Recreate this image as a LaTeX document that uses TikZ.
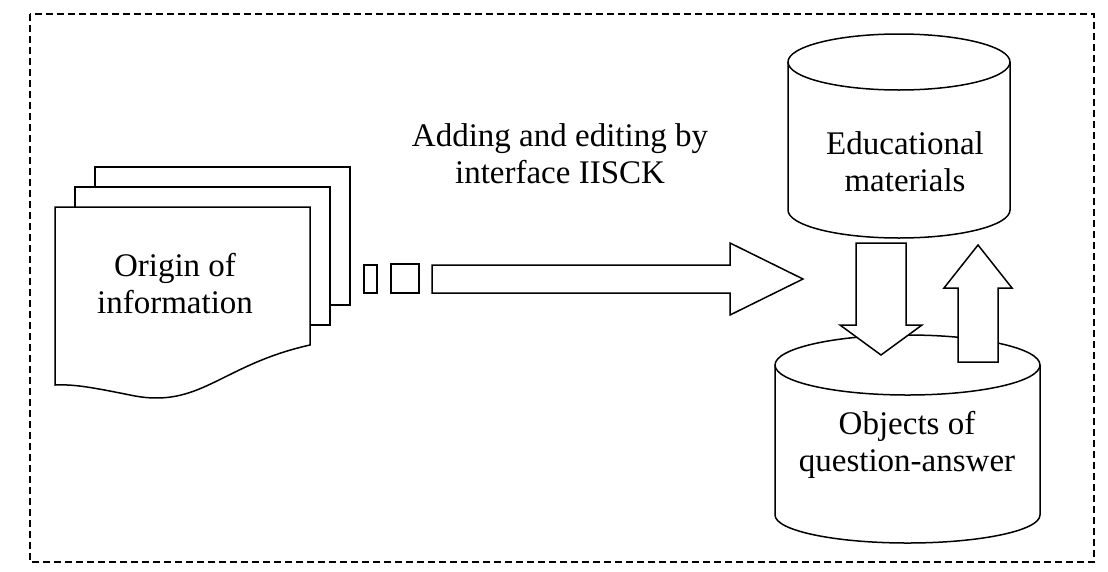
\documentclass[tikz,border=0pt]{standalone}
\usepackage{fontspec}
\setmainfont{Liberation Serif}
\begin{document}
\begin{tikzpicture}[x=1pt,y=-1pt,line width=1.5pt,
  lbl/.style={align=center,font=\fontsize{33}{37}\selectfont,inner sep=0pt}]
\useasboundingbox (0,0) rectangle (1108,571);
\draw[dash pattern=on 7pt off 4pt,line width=1.2pt] (30,14) rectangle (1094,562);
% documents
\foreach \dx/\dy in {40/-40,20/-20}{
 \draw[fill=white] (55+\dx,207+\dy) -- (310+\dx,207+\dy) -- (310+\dx,345+\dy) -- (55+\dx,345+\dy) -- cycle;}
\draw[fill=white] (55,207) -- (310,207) -- (310,345) .. controls (220,365) and (200,410) .. (130,395) .. controls (95,388) and (75,384) .. (55,385) -- cycle;
\node[lbl] (orig) at (175,284) {Origin of\\information};
% squares and arrow
\draw (364,265) rectangle (377,293);
\draw (391,264) rectangle (419,293);
\draw (432,265) -- (730,265) -- (730,243) -- (803,279) -- (730,315) -- (730,293) -- (432,293) -- cycle;
\node[lbl] (add) at (560,154) {Adding and editing by\\interface IISCK};
% top cylinder
\draw (788,62) -- (788,210) arc[start angle=180,end angle=0,x radius=111,y radius=28] -- (1010,62);
\draw (899,62) ellipse[x radius=111,y radius=28];
\node[lbl] (edu) at (905,162) {Educational\\materials};
% bottom cylinder
\draw (775,365) -- (775,515) arc[start angle=180,end angle=0,x radius=132.5,y radius=28] -- (1040,365);
\draw (907.5,365) ellipse[x radius=132.5,y radius=30];
\node[lbl] (obj) at (907,445) {Objects of\\question-answer};
% vertical arrows
\draw[fill=white] (856,243) -- (906,243) -- (906,325) -- (922,325) -- (881,355) -- (840,325) -- (856,325) -- cycle;
\draw[fill=white] (958,362) -- (998,362) -- (998,288) -- (1012,288) -- (978,245) -- (944,288) -- (958,288) -- cycle;
\end{tikzpicture}
\end{document}
